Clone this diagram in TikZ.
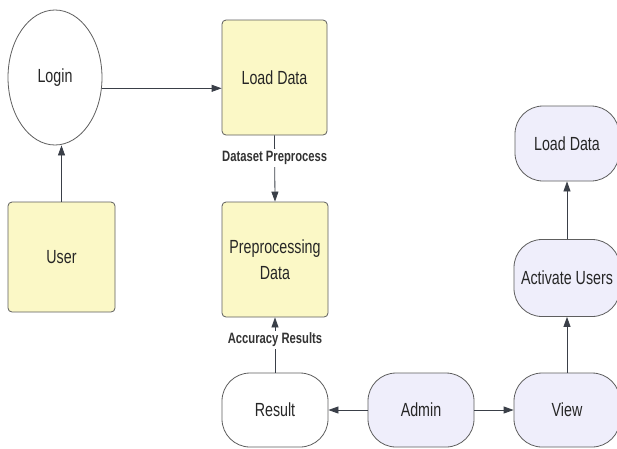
\documentclass[tikz,border=0pt]{standalone}
\usepackage{fontspec}
\setmainfont{Liberation Sans}[FakeStretch=0.75]
\usetikzlibrary{shapes.geometric,arrows.meta}
\definecolor{yfill}{HTML}{FBF8C6}
\definecolor{lfill}{HTML}{EFEEFB}
\definecolor{bord}{HTML}{5E5E5E}
\definecolor{arrc}{HTML}{3A3F48}
\tikzset{
  base/.style={draw=bord, line width=0.8pt, inner sep=0pt, align=center, text=black!85,
    font=\fontsize{19}{26}\selectfont},
  ybox/.style={base, fill=yfill, rounded corners=4pt},
  pill/.style={base, rounded corners=28pt, minimum width=106pt, minimum height=74pt},
  lpill/.style={pill, fill=lfill},
  arr/.style={draw=arrc, line width=0.8pt, -{Triangle[length=10pt,width=7pt]}},
  lbl/.style={fill=white, inner sep=2pt, text=black!80, font=\fontsize{15}{18}\bfseries\selectfont}
}
\begin{document}
\begin{tikzpicture}[x=1pt,y=-1pt]
\clip (0,0) rectangle (617,448);
\fill[white] (0,0) rectangle (617,448);
\node[base, ellipse, fill=white, minimum width=94pt, minimum height=135pt] (login) at (55,77.5) {Login};
\node[ybox, minimum width=105pt, minimum height=115pt] (loaddata) at (274.5,77.5) {Load Data};
\node[ybox, minimum width=107pt, minimum height=110pt] (user) at (61.5,257) {User};
\node[ybox, minimum width=106pt, minimum height=115pt] (prep) at (275,259.5) {Preprocessing\\Data};
\node[pill, fill=white] (result) at (275,410) {Result};
\node[lpill] (admin) at (421,410) {Admin};
\node[lpill] (view) at (567,410) {View};
\node[lpill, minimum height=77pt] (activate) at (567,278) {Activate Users};
\node[lpill, minimum width=104pt, minimum height=75pt] (load2) at (567,143.5) {Load Data};

\draw[arr] (login.-13) -- (login.-13 -| loaddata.west);
\draw[arr] (user.north) -- (user.north |- login.south);
\draw[arr] (loaddata.south) -- node[lbl, pos=0.34] {Dataset Preprocess} (prep.north);
\draw[arr] (result.north) -- node[lbl, pos=0.59] {Accuracy Results} (prep.south);
\draw[arr] (admin.west) -- (result.east);
\draw[arr] (admin.east) -- (view.west);
\draw[arr] (view.north) -- (activate.south);
\draw[arr] (activate.north) -- (load2.south);
\end{tikzpicture}
\end{document}
